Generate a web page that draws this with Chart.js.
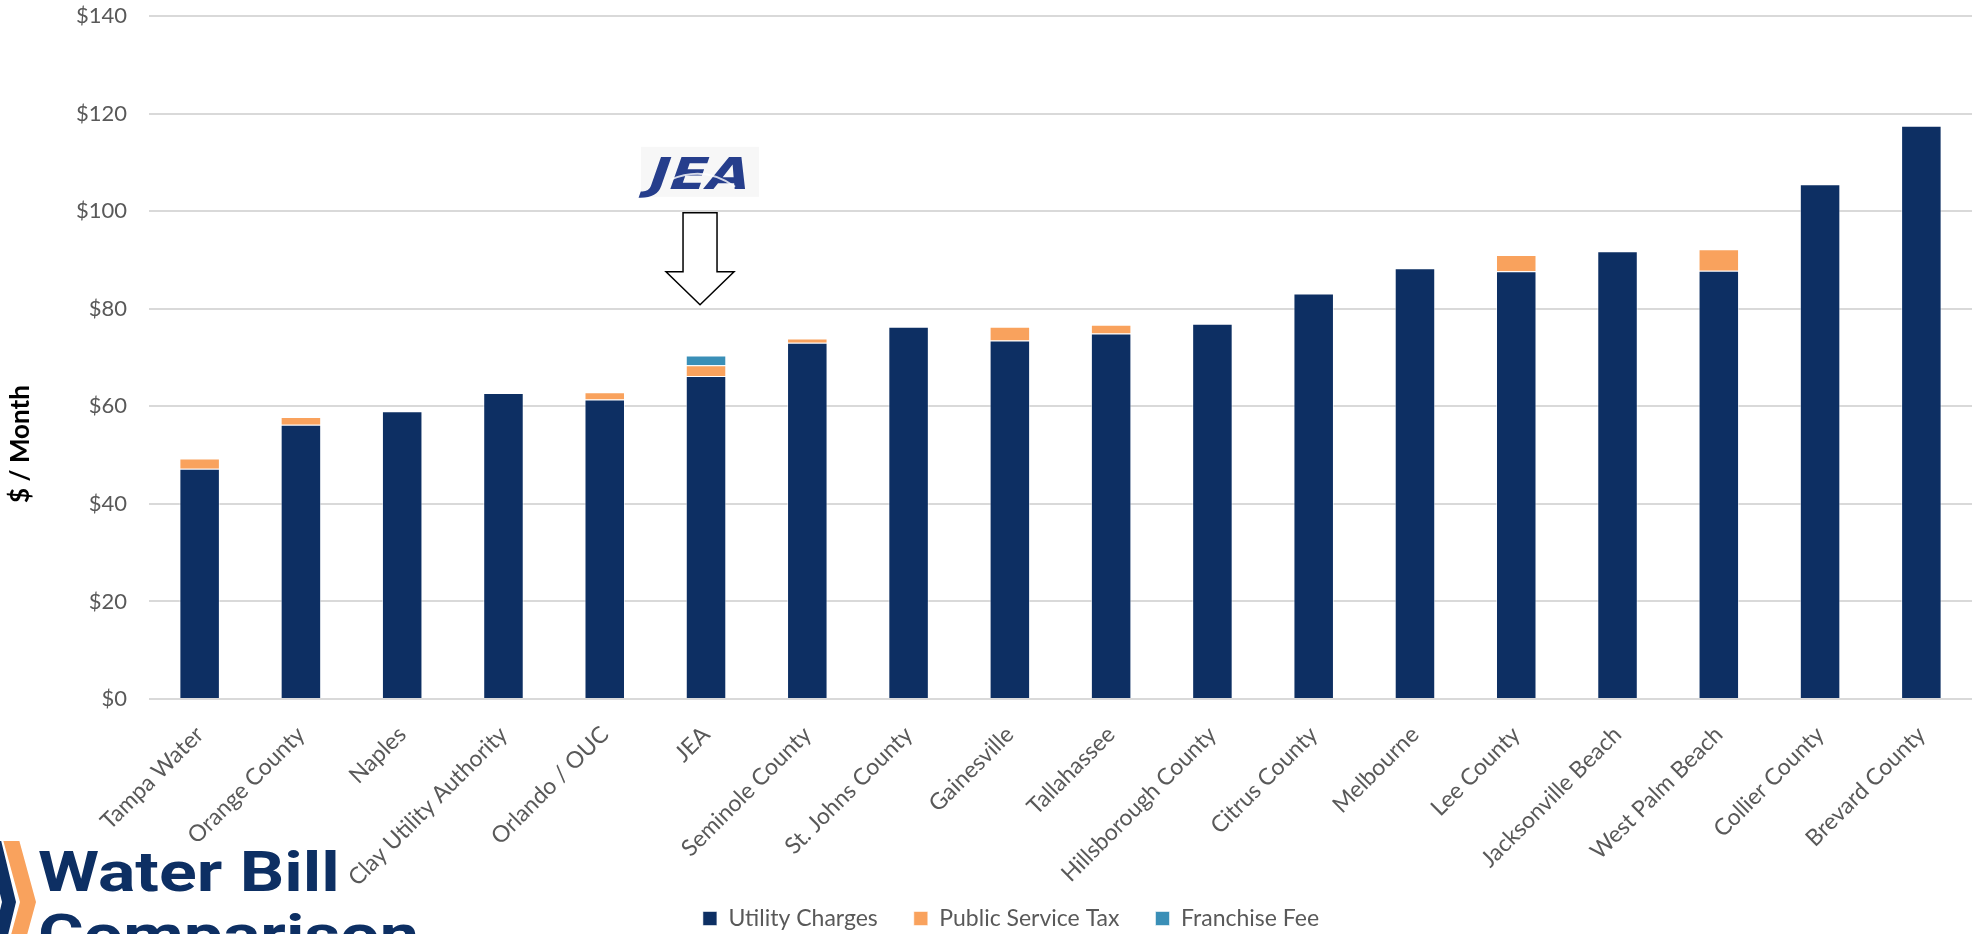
<!DOCTYPE html>
<html lang="en">
<head>
<meta charset="UTF-8">
<title>Water Bill Comparison</title>
<script src="https://cdn.jsdelivr.net/npm/chart.js"></script>
<style>
    body { margin: 0; background: #fff; }
    .wrap { position: relative; width: 1980px; height: 934px; overflow: hidden; }
    .brand { position: absolute; left: 0; top: 841px; width: 420px; height: 120px; }
    .brand-text {
        position: absolute; left: 38px; top: 0;
        font-family: Roboto, "Liberation Sans", sans-serif; font-weight: 700;
        font-size: 55px; line-height: 63px; color: #0d2f63;
        transform: scaleX(1.27); transform-origin: left top;
    }
</style>
</head>
<body>
<div class="wrap">
    <canvas id="billChart" width="1980" height="948"></canvas>
    <div class="brand">
        <svg width="40" height="120" style="position:absolute;left:0;top:0">
            <polygon points="-14,-5 0,-5 16,61 0,127 -14,127 2,61" fill="#0d2f63"/>
            <polygon points="2,-5 18,-5 36,61 18,127 2,127 20,61" fill="#f9a25d"/>
        </svg>
        <div class="brand-text">Water Bill<br>Comparison</div>
    </div>
</div>

<script>
    const cities = ['Tampa Water', 'Orange County', 'Naples', 'Clay Utility Authority', 'Orlando / OUC', 'JEA',
        'Seminole County', 'St. Johns County', 'Gainesville', 'Tallahassee', 'Hillsborough County', 'Citrus County',
        'Melbourne', 'Lee County', 'Jacksonville Beach', 'West Palm Beach', 'Collier County', 'Brevard County'];

    const utilityCharges = [47.2, 56.2, 59.0, 62.7, 61.4, 66.2, 73.0, 76.3, 73.5, 74.9, 76.9, 83.1, 88.3, 87.7, 91.8, 87.8, 105.5, 117.5];
    const publicServiceTax = [2.1, 1.6, null, null, 1.5, 2.2, 0.9, null, 2.8, 1.8, null, null, null, 3.3, null, 4.4, null, null];
    const franchiseFee = [null, null, null, null, null, 2.0, null, null, null, null, null, null, null, null, null, null, null, null];

    const yTicks = [0, 20, 40, 60, 80, 100, 120, 140];
    const highlightIndex = cities.indexOf('JEA');

    const fontName = 'Lato, "Open Sans", sans-serif';

    // y title, JEA logo and arrow drawn on top of the chart
    const extras = {
        id: 'extras',
        afterLayout(chart) {
            // let the rotated category labels run past the fixed axis box
            chart.scales.x.bottom = chart.height;
        },
        afterDraw(chart) {
            const ctx = chart.ctx;
            const xs = chart.scales.x;
            const ys = chart.scales.y;

            ctx.save();
            ctx.translate(21, 444);
            ctx.rotate(-Math.PI / 2);
            ctx.fillStyle = '#000';
            ctx.font = 'bold 26px ' + fontName;
            ctx.textAlign = 'center';
            ctx.textBaseline = 'middle';
            ctx.fillText('$ / Month', 0, 0);
            ctx.restore();

            const cx = xs.getPixelForValue(highlightIndex) - 6;
            const tip = ys.getPixelForValue(80.8);

            // arrow
            ctx.save();
            ctx.beginPath();
            ctx.moveTo(cx - 17, tip - 92);
            ctx.lineTo(cx + 17, tip - 92);
            ctx.lineTo(cx + 17, tip - 33);
            ctx.lineTo(cx + 34, tip - 33);
            ctx.lineTo(cx, tip);
            ctx.lineTo(cx - 34, tip - 33);
            ctx.lineTo(cx - 17, tip - 33);
            ctx.closePath();
            ctx.fillStyle = '#fff';
            ctx.fill();
            ctx.lineWidth = 1.5;
            ctx.strokeStyle = '#000';
            ctx.stroke();
            ctx.restore();

            // JEA logo
            ctx.save();
            ctx.fillStyle = '#f7f7f7';
            ctx.fillRect(cx - 59, tip - 158, 118, 50);
            ctx.translate(cx, tip - 130);
            ctx.transform(1, 0, -0.35, 1, 0, 0);
            ctx.scale(1.25, 1);
            ctx.fillStyle = '#263e8c';
            ctx.font = '900 44px "DejaVu Sans", sans-serif';
            ctx.textAlign = 'center';
            ctx.textBaseline = 'middle';
            ctx.fillText('JEA', 0, 3);
            ctx.restore();
            ctx.save();
            ctx.beginPath();
            ctx.moveTo(cx - 30, tip - 125);
            ctx.quadraticCurveTo(cx + 5, tip - 140, cx + 35, tip - 118);
            ctx.strokeStyle = 'rgba(255,255,255,0.8)';
            ctx.lineWidth = 2;
            ctx.stroke();
            ctx.restore();
        }
    };

    const barBorder = 'rgba(255,255,255,0.55)';

    new Chart(document.getElementById('billChart'), {
        type: 'bar',
        data: {
            labels: cities,
            datasets: [
                { label: 'Utility Charges', data: utilityCharges, backgroundColor: '#0d2f63', borderColor: barBorder, borderWidth: 1 },
                { label: 'Public Service Tax', data: publicServiceTax, backgroundColor: '#f9a25d', borderColor: barBorder, borderWidth: 1 },
                { label: 'Franchise Fee', data: franchiseFee, backgroundColor: '#3a8fb7', borderColor: barBorder, borderWidth: 1 }
            ]
        },
        options: {
            responsive: false,
            animation: false,
            layout: { padding: { top: 0, right: 8, bottom: 8, left: 50 } },
            datasets: { bar: { categoryPercentage: 1, barPercentage: 0.4 } },
            scales: {
                x: {
                    stacked: true,
                    grid: { display: false },
                    border: { display: false },
                    ticks: {
                        maxRotation: 45, minRotation: 45, autoSkip: false, padding: 14,
                        color: '#595959', font: { family: fontName, size: 23 }
                    },
                    afterFit(scale) { scale.height = 172; scale.paddingTop = 0; }
                },
                y: {
                    stacked: true,
                    min: 0, max: 140,
                    afterBuildTicks(scale) { scale.ticks = yTicks.map(v => ({ value: v })); },
                    grid: { color: '#d9d9d9', lineWidth: 2, drawTicks: false },
                    border: { display: false },
                    ticks: {
                        padding: 22, color: '#595959', font: { family: fontName, size: 22 },
                        callback: v => '$' + v
                    },
                    afterFit(scale) { scale.width = 99; scale.paddingTop = 16; scale.paddingBottom = 0; }
                }
            },
            plugins: {
                tooltip: { enabled: false },
                legend: {
                    position: 'bottom',
                    labels: {
                        boxWidth: 14, boxHeight: 14, padding: 36,
                        color: '#595959', font: { family: fontName, size: 23 }
                    }
                }
            }
        },
        plugins: [extras]
    });
</script>
</body>
</html>
